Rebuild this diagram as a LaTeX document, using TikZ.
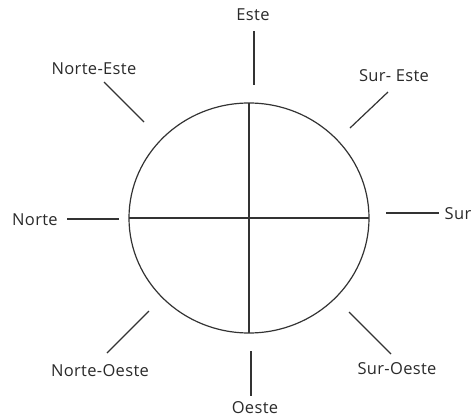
\documentclass[tikz,border=0pt]{standalone}
\usepackage{fontspec}
\setmainfont[LetterSpace=2]{Open Sans}
\usepackage{xcolor}
\usetikzlibrary{positioning,shapes.geometric}
\definecolor{InkGray}{HTML}{2A2A2A}
\definecolor{LineGray}{HTML}{333333}

\begin{document}
\begin{tikzpicture}[
    x=1pt, y=-1pt,
    rosa/.style={ellipse, draw=LineGray, line width=1.2pt, inner sep=0pt, outer sep=0pt,
      minimum width=240pt, minimum height=230pt},
    tick/.style={draw=LineGray, line width=1.2pt},
    lbl/.style={text=InkGray, inner sep=0pt, font=\fontsize{16.5}{19}\selectfont}
  ]
    \useasboundingbox (0,0) rectangle (472,418);

    \node[rosa] (rosa) at (249,218) {};
    \draw[tick] (rosa.west) -- (rosa.east);
    \draw[tick] (rosa.north) -- (rosa.south);

    \node[lbl] (este) at (253,15) {Este};
    \node[lbl] (oeste) at (255,408) {Oeste};
    \node[lbl] (norte) at (35,220) {Norte};
    \node[lbl, anchor=east] (sur) at (471.5,214) {Sur};
    \node[lbl] (ne) at (94,69) {Norte-Este};
    \node[lbl] (se) at (394,76) {Sur- Este};
    \node[lbl] (no) at (100,371) {Norte-Oeste};
    \node[lbl] (so) at (397,369) {Sur-Oeste};

    % trazos sueltos junto al circulo
    \coordinate (este-a) at (254,31);  \coordinate (este-b) at (254,85);
    \coordinate (oeste-a) at (251,351); \coordinate (oeste-b) at (251,396);
    \coordinate (norte-a) at (67,219); \coordinate (norte-b) at (119,219);
    \coordinate (sur-a) at (386,213);  \coordinate (sur-b) at (439,213);
    \coordinate (ne-a) at (104,82);    \coordinate (ne-b) at (144,122);
    \coordinate (se-a) at (388,92);    \coordinate (se-b) at (350,128);
    \coordinate (no-a) at (107,353);   \coordinate (no-b) at (149,311);
    \coordinate (so-a) at (349,312);   \coordinate (so-b) at (391,354);

    \draw[tick] (este-a) -- (este-b);
    \draw[tick] (oeste-a) -- (oeste-b);
    \draw[tick] (norte-a) -- (norte-b);
    \draw[tick] (sur-a) -- (sur-b);
    \draw[tick] (ne-a) -- (ne-b);
    \draw[tick] (se-a) -- (se-b);
    \draw[tick] (no-a) -- (no-b);
    \draw[tick] (so-a) -- (so-b);
  \end{tikzpicture}
\end{document}
